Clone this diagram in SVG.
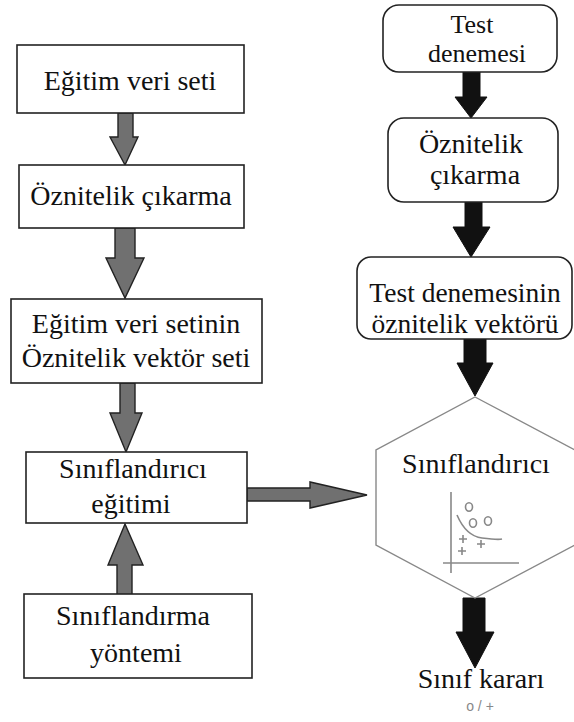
<svg xmlns="http://www.w3.org/2000/svg" width="574" height="722" viewBox="0 0 574 722">
<style>
.box{fill:#fff;stroke:#222;stroke-width:1.6}
.t{font-family:"Liberation Serif","Times New Roman",serif;font-size:28px;fill:#111;text-anchor:middle}
.ga{fill:#707070;stroke:#222;stroke-width:1.4;stroke-linejoin:miter}
.ba{fill:#111;stroke:#111;stroke-width:1}
.hex{fill:#fff;stroke:#888;stroke-width:1.4}
.plot{fill:none;stroke:#888;stroke-width:1.6}
.small{font-family:"Liberation Sans",Arial,sans-serif;font-size:13px;fill:#888;text-anchor:middle}
</style>
<rect width="574" height="722" fill="#fff"/>
<g id="connectors">
<path class="ga" d="M118,113 H133 V137 H138 L125,165 L110,137 H118 Z"/>
<path class="ga" d="M115,228 H135 V258 H144 L125,298 L106,258 H115 Z"/>
<path class="ga" d="M120,383 H135 V413 H142 L126,452 L110,413 H120 Z"/>
<path class="ga" d="M117,595 V565 H108 L125,524 L143,565 H132 V595 Z"/>
<path class="ga" d="M247,488 H310 V482 L367,495 L310,508 V501 H247 Z"/>
<path class="ba" d="M463,72 H480 V97 H487 L471,118 L455,97 H463 Z"/>
<path class="ba" d="M465,202 H482 V227 H490 L471,257 L453,227 H465 Z"/>
<path class="ba" d="M464,339 H486 V363 H493 L475,396 L457,363 H464 Z"/>
<path class="ba" d="M463,598 H485 V632 H494 L475,668 L456,632 H463 Z"/>
</g>
<g id="egitim-veri-seti">
<rect class="box" x="17" y="45" width="227" height="68"/>
<text class="t" x="130" y="90">Eğitim veri seti</text>
</g>
<g id="oznitelik-cikarma-sol">
<rect class="box" x="19" y="165" width="225" height="63"/>
<text class="t" x="131" y="205">Öznitelik çıkarma</text>
</g>
<g id="oznitelik-vektor-seti">
<rect class="box" x="11" y="299" width="251" height="84"/>
<text class="t" x="136" y="333">Eğitim veri setinin</text>
<text class="t" x="136" y="367">Öznitelik vektör seti</text>
</g>
<g id="siniflandirici-egitimi">
<rect class="box" x="26" y="452" width="221" height="71"/>
<text class="t" x="133" y="478">Sınıflandırıcı</text>
<text class="t" x="131" y="513">eğitimi</text>
</g>
<g id="siniflandirma-yontemi">
<rect class="box" x="24" y="594" width="228" height="84"/>
<text class="t" x="133" y="625">Sınıflandırma</text>
<text class="t" x="136" y="662">yöntemi</text>
</g>
<g id="test-denemesi">
<rect class="box" x="383" y="5" width="174" height="67" rx="16"/>
<text class="t" x="472" y="33" style="font-size:26px">Test</text>
<text class="t" x="477" y="62" style="font-size:26px">denemesi</text>
</g>
<g id="oznitelik-cikarma-sag">
<rect class="box" x="388" y="118" width="170" height="84" rx="16"/>
<text class="t" x="471" y="153">Öznitelik</text>
<text class="t" x="475" y="184">çıkarma</text>
</g>
<g id="test-oznitelik-vektoru">
<rect class="box" x="357" y="257" width="215" height="82" rx="14"/>
<text class="t" x="465" y="302" style="font-size:27.5px">Test denemesinin</text>
<text class="t" x="465" y="333" style="font-size:27.5px">öznitelik vektörü</text>
</g>
<g id="siniflandirici">
<polygon class="hex" points="475,397 575,450 575,545 475,598 376,545 376,450"/>
<text class="t" x="476" y="473">Sınıflandırıcı</text>
<line class="plot" x1="451" y1="492" x2="451" y2="573"/>
<line class="plot" x1="443" y1="563" x2="519" y2="563"/>
<ellipse class="plot" cx="469" cy="507" rx="3.5" ry="4.2" stroke-width="1.3"/>
<ellipse class="plot" cx="473" cy="523" rx="3.5" ry="4.2" stroke-width="1.3"/>
<ellipse class="plot" cx="488" cy="521" rx="3.5" ry="4.2" stroke-width="1.3"/>
<path class="plot" d="M457,515 Q466,536 482,538 T502,539" stroke-width="1.2"/>
<path class="plot" d="M459,539 h8 M463,535 v8 M477,544 h8 M481,540 v8 M458,551 h8 M462,547 v8" stroke="#666" stroke-width="1.3"/>
</g>
<g id="sinif-karari">
<text class="t" x="481" y="688">Sınıf kararı</text>
<text class="small" x="480" y="711" style="font-size:14px">o / +</text>
</g>
</svg>
